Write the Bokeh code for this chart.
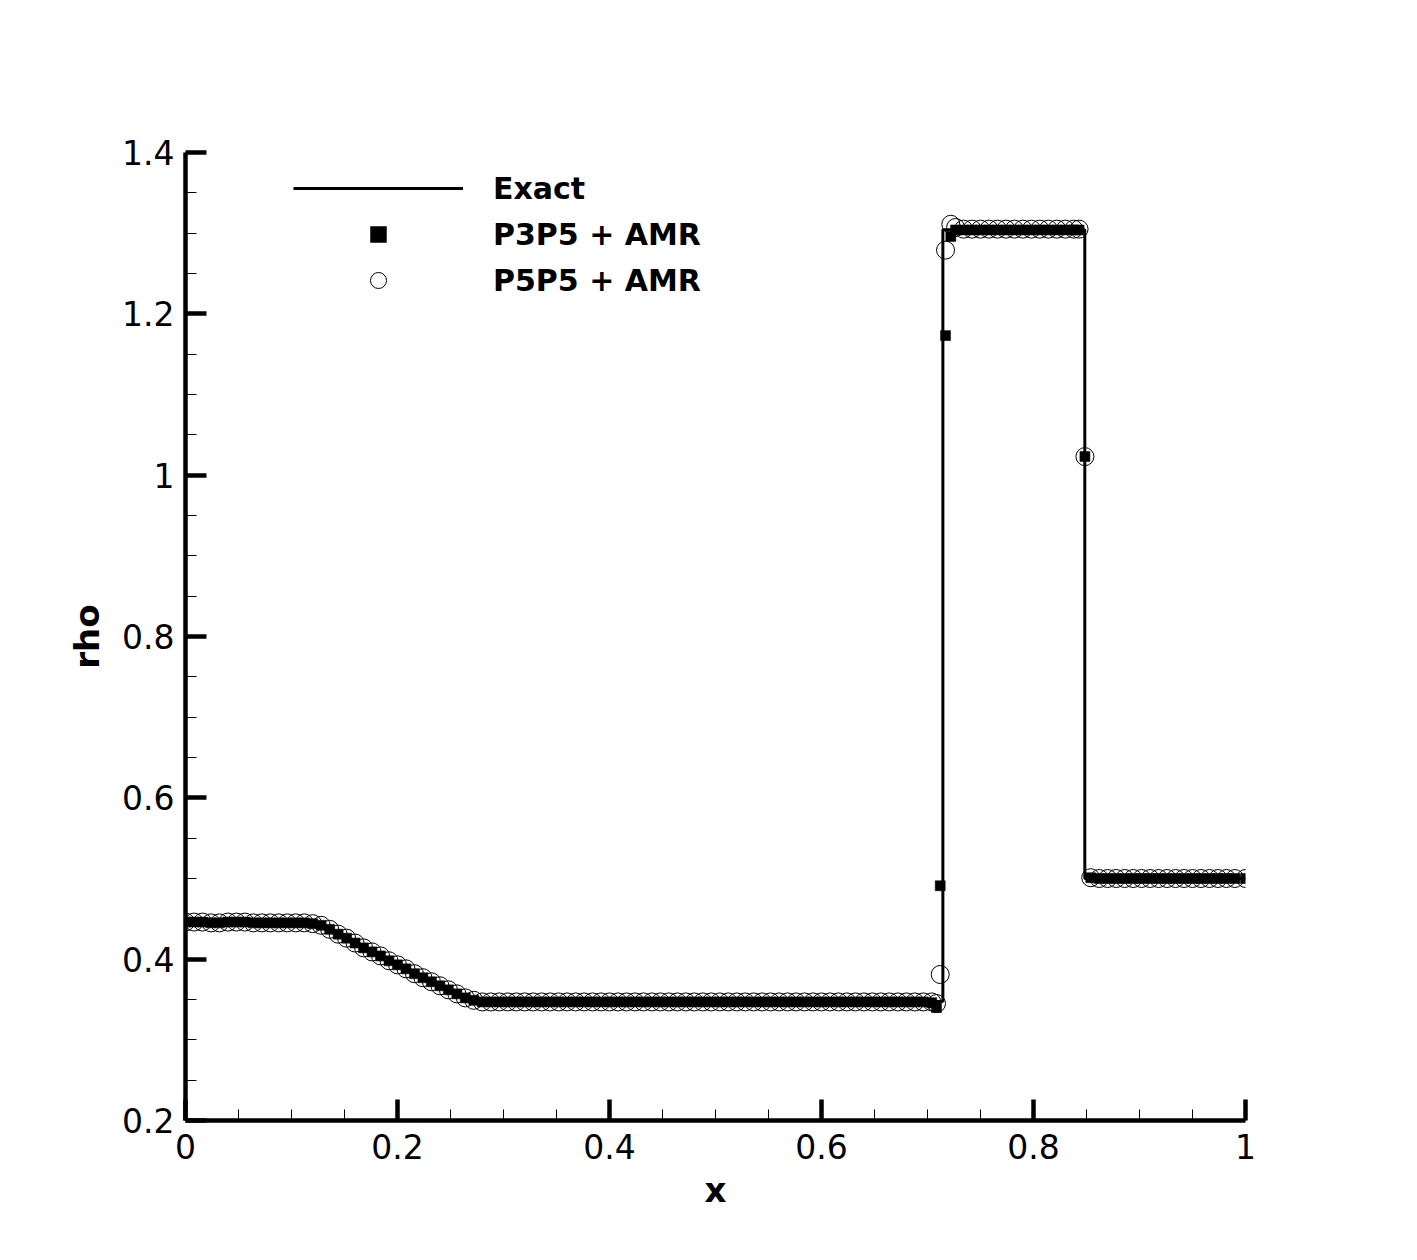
from bokeh.plotting import figure
from bokeh.models import (Range1d, SingleIntervalTicker, CustomJSTickFormatter,
                          Legend, LegendItem, ColumnDataSource)
from bokeh.embed import file_html
from bokeh.resources import INLINE

# ---------------- data ----------------
exact_x = [0.0, 0.125, 0.1434, 0.1618, 0.1801, 0.1985, 0.2169, 0.2353, 0.2536, 0.272,
           0.7145, 0.7145, 0.8484, 0.8484, 1.0]
exact_rho = [0.445, 0.445, 0.4318, 0.4188, 0.4062, 0.3939, 0.3819, 0.3702, 0.3588, 0.3474,
             0.3474, 1.3041, 1.3041, 0.5, 0.5]

x_nodes = [
    0.0, 0.008, 0.016, 0.024, 0.032, 0.04, 0.048, 0.056, 0.064, 0.072, 0.08, 0.088,
    0.096, 0.104, 0.112, 0.12,
    0.128, 0.136, 0.144, 0.152, 0.16, 0.168, 0.176, 0.184, 0.192, 0.2, 0.208, 0.216,
    0.224, 0.232, 0.24, 0.248, 0.256, 0.264, 0.272,
    0.28, 0.288, 0.296, 0.304, 0.312, 0.32, 0.328, 0.336, 0.344, 0.352, 0.36, 0.368,
    0.376, 0.384, 0.392, 0.4, 0.408, 0.416, 0.424, 0.432, 0.44, 0.448, 0.456, 0.464,
    0.472, 0.48, 0.488, 0.496, 0.504, 0.512, 0.52, 0.528, 0.536, 0.544, 0.552, 0.56,
    0.568, 0.576, 0.584, 0.592, 0.6, 0.608, 0.616, 0.624, 0.632, 0.64, 0.648, 0.656,
    0.664, 0.672, 0.68, 0.688, 0.696,
    0.704, 0.7085, 0.712, 0.717, 0.722, 0.7265,
    0.734, 0.742, 0.75, 0.758, 0.766, 0.774, 0.782, 0.79, 0.798, 0.806, 0.814, 0.822,
    0.83, 0.838, 0.843, 0.8485,
    0.854, 0.862, 0.87, 0.878, 0.886, 0.894, 0.902, 0.91, 0.918, 0.926, 0.934, 0.942,
    0.95, 0.958, 0.966, 0.974, 0.982, 0.99, 1.0,
]

rho_p3p5 = [
    0.446, 0.446, 0.446, 0.445, 0.445, 0.446, 0.446, 0.446, 0.445, 0.445, 0.445, 0.445,
    0.445, 0.445, 0.445, 0.444,
    0.442, 0.437, 0.431, 0.426, 0.420, 0.414, 0.409, 0.404, 0.398, 0.393, 0.388, 0.382,
    0.377, 0.372, 0.367, 0.362, 0.357, 0.352, 0.349,
    0.347, 0.347, 0.347, 0.347, 0.347, 0.347, 0.347, 0.347, 0.347, 0.347, 0.347, 0.347,
    0.347, 0.347, 0.347, 0.347, 0.347, 0.347, 0.347, 0.347, 0.347, 0.347, 0.347, 0.347,
    0.347, 0.347, 0.347, 0.347, 0.347, 0.347, 0.347, 0.347, 0.347, 0.347, 0.347, 0.347,
    0.347, 0.347, 0.347, 0.347, 0.347, 0.347, 0.347, 0.347, 0.347, 0.347, 0.347, 0.347,
    0.347, 0.347, 0.347, 0.347, 0.347,
    0.346, 0.340, 0.491, 1.173, 1.296, 1.304,
    1.304, 1.304, 1.304, 1.304, 1.304, 1.304, 1.304, 1.304, 1.304, 1.304, 1.304, 1.304,
    1.304, 1.304, 1.304, 1.023,
    0.501, 0.500, 0.500, 0.500, 0.500, 0.500, 0.500, 0.500, 0.500, 0.500, 0.500, 0.500,
    0.500, 0.500, 0.500, 0.500, 0.500, 0.500, 0.500,
]

rho_p5p5 = [
    0.446, 0.446, 0.446, 0.445, 0.445, 0.446, 0.446, 0.446, 0.445, 0.445, 0.445, 0.445,
    0.445, 0.445, 0.445, 0.444,
    0.442, 0.437, 0.431, 0.426, 0.420, 0.414, 0.409, 0.404, 0.398, 0.393, 0.388, 0.382,
    0.377, 0.372, 0.367, 0.362, 0.357, 0.352, 0.349,
    0.347, 0.347, 0.347, 0.347, 0.347, 0.347, 0.347, 0.347, 0.347, 0.347, 0.347, 0.347,
    0.347, 0.347, 0.347, 0.347, 0.347, 0.347, 0.347, 0.347, 0.347, 0.347, 0.347, 0.347,
    0.347, 0.347, 0.347, 0.347, 0.347, 0.347, 0.347, 0.347, 0.347, 0.347, 0.347, 0.347,
    0.347, 0.347, 0.347, 0.347, 0.347, 0.347, 0.347, 0.347, 0.347, 0.347, 0.347, 0.347,
    0.347, 0.347, 0.347, 0.347, 0.347,
    0.347, 0.345, 0.381, 1.279, 1.311, 1.307,
    1.305, 1.305, 1.305, 1.305, 1.305, 1.305, 1.305, 1.305, 1.305, 1.305, 1.305, 1.305,
    1.305, 1.305, 1.305, 1.023,
    0.501, 0.500, 0.500, 0.500, 0.500, 0.500, 0.500, 0.500, 0.500, 0.500, 0.500, 0.500,
    0.500, 0.500, 0.500, 0.500, 0.500, 0.500, 0.500,
]

series_labels = ["Exact", "P3P5 + AMR", "P5P5 + AMR"]

# ---------------- figure ----------------
FONT = "DejaVu Sans"
p = figure(width=1400, height=1240,
           x_range=Range1d(0, 1.0000001), y_range=Range1d(0.2, 1.4000001),
           output_backend="svg", toolbar_location=None,
           min_border_left=185, min_border_right=155,
           min_border_top=152, min_border_bottom=120)
p.outline_line_color = None
p.grid.visible = False
p.background_fill_color = "white"

src_exact = ColumnDataSource(dict(x=exact_x, y=exact_rho))
src_num = ColumnDataSource(dict(x=x_nodes, p3=rho_p3p5, p5=rho_p5p5))

r_p5 = p.scatter("x", "p5", source=src_num, marker="circle", size=18,
                 fill_color=None, line_color="black", line_width=1)
r_p3 = p.scatter("x", "p3", source=src_num, marker="square", size=10,
                 fill_color="black", line_color="black", line_width=0.5)
r_ex = p.line("x", "y", source=src_exact, line_color="black", line_width=3)

fmt = CustomJSTickFormatter(code="return String(Number(tick.toFixed(1)));")
for ax in (p.xaxis[0], p.yaxis[0]):
    ax.ticker = SingleIntervalTicker(interval=0.2, num_minor_ticks=4)
    ax.formatter = fmt
    ax.axis_line_width = 4.5
    ax.axis_line_color = "black"
    ax.major_tick_in = 21
    ax.major_tick_out = 0
    ax.major_tick_line_width = 4.5
    ax.minor_tick_in = 11
    ax.minor_tick_out = 0
    ax.minor_tick_line_width = 1
    ax.major_label_text_font = FONT
    ax.major_label_text_font_size = "33px"
    ax.major_label_text_color = "black"
    ax.axis_label_text_font = FONT
    ax.axis_label_text_font_style = "bold"
    ax.axis_label_text_font_size = "34px"
    ax.axis_label_text_color = "black"

p.xaxis.axis_label = "x"
p.yaxis.axis_label = "rho"
p.xaxis.major_label_standoff = 13
p.yaxis.major_label_standoff = 11
p.xaxis.axis_label_standoff = 8
p.yaxis.axis_label_standoff = 12

legend = Legend(items=[LegendItem(label=series_labels[0], renderers=[r_ex]),
                       LegendItem(label=series_labels[1], renderers=[r_p3]),
                       LegendItem(label=series_labels[2], renderers=[r_p5])],
                location=(108, 820), glyph_width=170, glyph_height=40, spacing=6,
                label_standoff=30, padding=0, margin=0,
                border_line_color=None, background_fill_alpha=0,
                label_text_font=FONT, label_text_font_style="bold",
                label_text_font_size="30px", label_text_color="black")
p.add_layout(legend)

open("out.html", "w").write(file_html(p, INLINE))
